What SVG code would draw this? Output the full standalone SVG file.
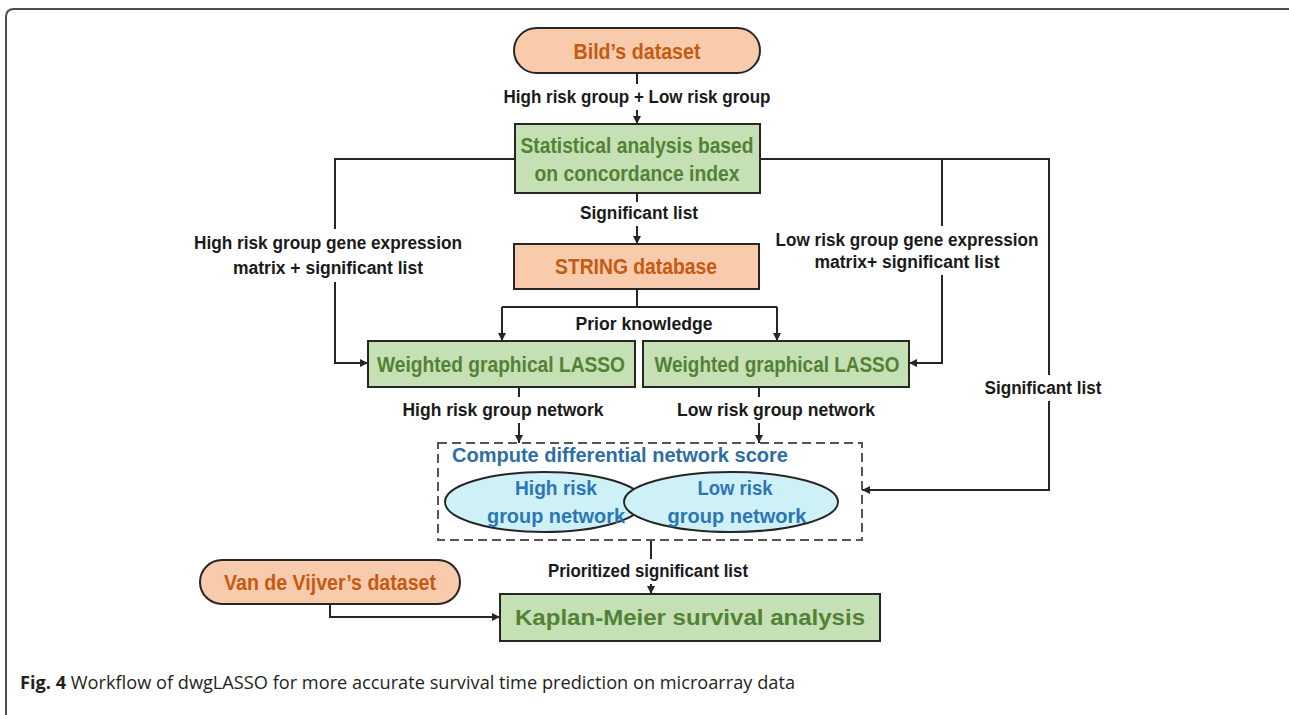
<svg xmlns="http://www.w3.org/2000/svg" width="1289" height="715" viewBox="0 0 1289 715">
<style>
.bg{fill:#ffffff}
.frame{fill:none;stroke:#4d4d4d;stroke-width:2}
.pill{fill:#F8CBAD;stroke:#262626;stroke-width:2}
.gbox{fill:#C5E0B4;stroke:#262626;stroke-width:2}
.obox{fill:#F8CBAD;stroke:#262626;stroke-width:2}
.ell{fill:#CDF1F6;stroke:#262626;stroke-width:2}
.dash{fill:none;stroke:#555555;stroke-width:2;stroke-dasharray:9 5}
.ln{fill:none;stroke:#262626;stroke-width:2}
text{font-family:"Liberation Sans",Arial,sans-serif;font-weight:bold;text-anchor:middle}
.ot{fill:#C55A11;font-size:22px}
.gt{fill:#538135;font-size:22px}
.lb{fill:#1a1a1a;font-size:18px}
.bt{fill:#2E75B6;font-size:20px}
.cap{font-family:"Open Sans","Liberation Sans",sans-serif;font-size:18px;font-weight:normal;fill:#231f20;text-anchor:start}
</style>
<defs>
<marker id="ah" viewBox="0 0 10 10" refX="10" refY="5" markerWidth="4" markerHeight="4" orient="auto" markerUnits="strokeWidth">
<path d="M0,0 L10,5 L0,10 z" fill="#262626"/>
</marker>
</defs>
<rect class="bg" x="0" y="0" width="1289" height="715"/>
<path class="frame" d="M6,715 V17 Q6,9 14,9 H1289"/>

<g id="connectors">
<path class="ln" d="M637,73 V84"/>
<path class="ln" d="M637,110 V124" marker-end="url(#ah)"/>
<path class="ln" d="M637,193 V202"/>
<path class="ln" d="M637,226 V244" marker-end="url(#ah)"/>
<path class="ln" d="M515,159 H335 V229"/>
<path class="ln" d="M335,282 V363 H368" marker-end="url(#ah)"/>
<path class="ln" d="M760,159 H1049 V375"/>
<path class="ln" d="M942,159 V226"/>
<path class="ln" d="M942,275 V363 H909" marker-end="url(#ah)"/>
<path class="ln" d="M1049,401 V490 H862" marker-end="url(#ah)"/>
<path class="ln" d="M637,289 V307"/>
<path class="ln" d="M502,307 H777"/>
<path class="ln" d="M502,307 V341" marker-end="url(#ah)"/>
<path class="ln" d="M777,307 V341" marker-end="url(#ah)"/>
<path class="ln" d="M519,387 V397"/>
<path class="ln" d="M519,423 V443" marker-end="url(#ah)"/>
<path class="ln" d="M759,387 V397"/>
<path class="ln" d="M759,423 V443" marker-end="url(#ah)"/>
<path class="ln" d="M651,540 V559"/>
<path class="ln" d="M651,584 V594" marker-end="url(#ah)"/>
<path class="ln" d="M330,604 V617 H500" marker-end="url(#ah)"/>
</g>

<g id="labels">
<text class="lb" x="637" y="103" textLength="267" lengthAdjust="spacingAndGlyphs">High risk group + Low risk group</text>
<text class="lb" x="639" y="219" textLength="118" lengthAdjust="spacingAndGlyphs">Significant list</text>
<text class="lb" x="328" y="249" textLength="268" lengthAdjust="spacingAndGlyphs">High risk group gene expression</text>
<text class="lb" x="328" y="274" textLength="190" lengthAdjust="spacingAndGlyphs">matrix + significant list</text>
<text class="lb" x="907" y="246" textLength="263" lengthAdjust="spacingAndGlyphs">Low risk group gene expression</text>
<text class="lb" x="907" y="268" textLength="185" lengthAdjust="spacingAndGlyphs">matrix+ significant list</text>
<text class="lb" x="644" y="330" textLength="137" lengthAdjust="spacingAndGlyphs">Prior knowledge</text>
<text class="lb" x="1043" y="394" textLength="117" lengthAdjust="spacingAndGlyphs">Significant list</text>
<text class="lb" x="503" y="416" textLength="201" lengthAdjust="spacingAndGlyphs">High risk group network</text>
<text class="lb" x="776" y="416" textLength="198" lengthAdjust="spacingAndGlyphs">Low risk group network</text>
<text class="lb" x="648" y="577" textLength="200" lengthAdjust="spacingAndGlyphs">Prioritized significant list</text>
</g>

<g id="bild">
<rect class="pill" x="514" y="28" width="246" height="45" rx="22.5"/>
<text class="ot" x="637" y="59" textLength="127" lengthAdjust="spacingAndGlyphs">Bild’s dataset</text>
</g>

<g id="stat">
<rect class="gbox" x="515" y="124" width="245" height="69"/>
<text class="gt" x="637" y="153" textLength="233" lengthAdjust="spacingAndGlyphs">Statistical analysis based</text>
<text class="gt" x="637" y="181" textLength="205" lengthAdjust="spacingAndGlyphs">on concordance index</text>
</g>

<g id="string">
<rect class="obox" x="514" y="244" width="245" height="45"/>
<text class="ot" x="636" y="274" textLength="162" lengthAdjust="spacingAndGlyphs">STRING database</text>
</g>

<g id="wgl1">
<rect class="gbox" x="368" y="341" width="267" height="46"/>
<text class="gt" x="501" y="372" textLength="248" lengthAdjust="spacingAndGlyphs">Weighted graphical LASSO</text>
</g>

<g id="wgl2">
<rect class="gbox" x="643" y="341" width="266" height="46"/>
<text class="gt" x="777" y="372" textLength="245" lengthAdjust="spacingAndGlyphs">Weighted graphical LASSO</text>
</g>

<g id="dnscore">
<rect class="dash" x="438" y="443" width="424" height="97"/>
<text class="bt" x="452" y="462" style="text-anchor:start;fill:#2F6EA5" textLength="336" lengthAdjust="spacingAndGlyphs">Compute differential network score</text>
</g>

<g id="highnet">
<ellipse class="ell" cx="544" cy="502" rx="99" ry="30"/>
<text class="bt" x="556" y="495" textLength="82" lengthAdjust="spacingAndGlyphs">High risk</text>
<text class="bt" x="556" y="523" textLength="138" lengthAdjust="spacingAndGlyphs">group network</text>
</g>

<g id="lownet">
<ellipse class="ell" cx="731" cy="502" rx="107" ry="30"/>
<text class="bt" x="735" y="495" textLength="75" lengthAdjust="spacingAndGlyphs">Low risk</text>
<text class="bt" x="737" y="523" textLength="139" lengthAdjust="spacingAndGlyphs">group network</text>
</g>

<g id="vandevijver">
<rect class="pill" x="200" y="560" width="260" height="44" rx="22"/>
<text class="ot" x="330" y="590" textLength="212" lengthAdjust="spacingAndGlyphs">Van de Vijver’s dataset</text>
</g>

<g id="kaplan">
<rect class="gbox" x="500" y="594" width="380" height="47"/>
<text class="gt" x="690" y="625" textLength="350" lengthAdjust="spacingAndGlyphs">Kaplan-Meier survival analysis</text>
</g>

<g id="caption">
<text class="cap" x="20" y="689" textLength="775" lengthAdjust="spacingAndGlyphs"><tspan style="font-weight:bold">Fig. 4</tspan> Workflow of dwgLASSO for more accurate survival time prediction on microarray data</text>
</g>
</svg>
